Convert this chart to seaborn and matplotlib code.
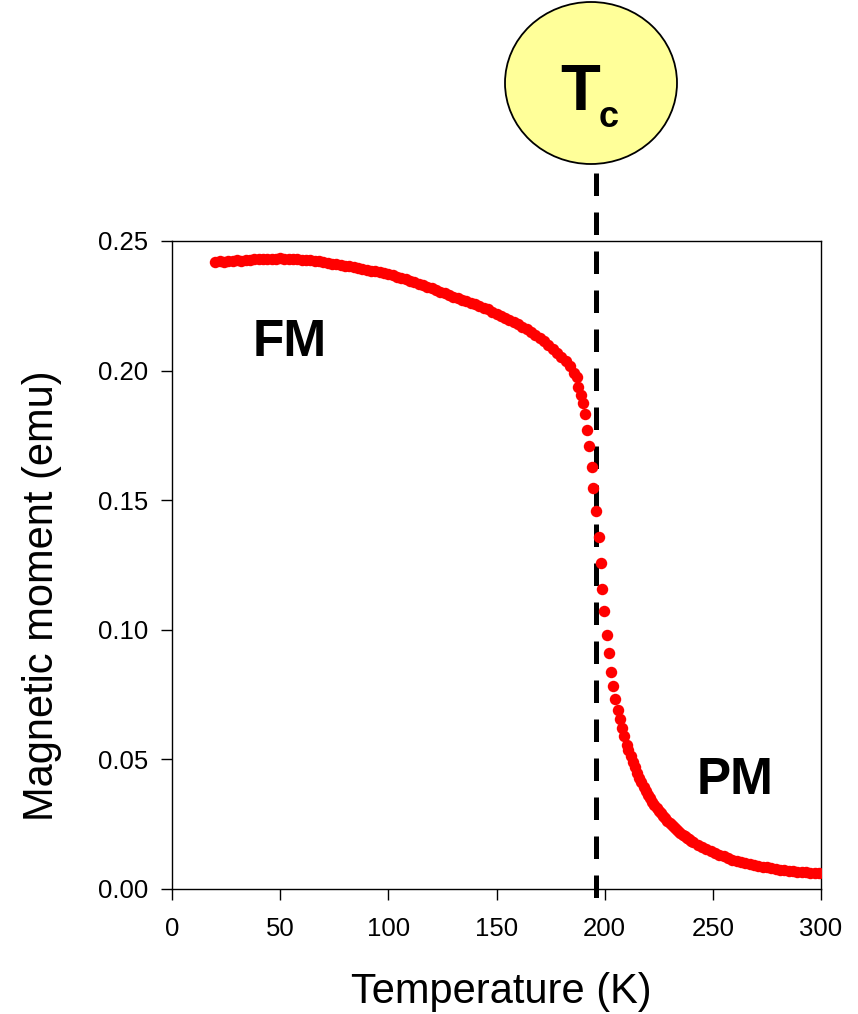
import matplotlib
matplotlib.use("Agg")
import matplotlib.pyplot as plt
from matplotlib.patches import Ellipse
import pandas as pd
import seaborn as sns

# Ferromagnetic branch (K, emu)
temp_fm = [20, 22, 24, 26, 28, 30, 32, 34, 36, 38, 40, 42, 44, 46, 48, 50, 52, 54, 56, 58,
           60, 62, 64, 66, 68, 70, 72, 74, 76, 78, 80, 82, 84, 86, 88, 90, 92, 94, 96, 98,
           100, 102, 104, 106, 108, 110, 112, 114, 116, 118, 120, 122, 124, 126, 128, 130,
           132, 134, 136, 138, 140, 142, 144, 146, 148, 150, 152, 154, 156, 158, 160, 162,
           164, 166, 168, 170, 172, 174, 176, 178, 180, 182, 184, 186]
moment_fm = [0.2419, 0.2421, 0.2420, 0.2423, 0.2422, 0.2425, 0.2424, 0.2428, 0.2427, 0.2430,
             0.2429, 0.2431, 0.2430, 0.2432, 0.2431, 0.2433, 0.2431, 0.2432, 0.2430, 0.2429,
             0.2428, 0.2426, 0.2425, 0.2423, 0.2421, 0.2419, 0.2416, 0.2413, 0.2410, 0.2408,
             0.2405, 0.2402, 0.2399, 0.2396, 0.2393, 0.2390, 0.2386, 0.2383, 0.2379, 0.2375,
             0.2371, 0.2367, 0.2363, 0.2358, 0.2353, 0.2347, 0.2341, 0.2336, 0.2330, 0.2324,
             0.2318, 0.2312, 0.2305, 0.2298, 0.2291, 0.2285, 0.2279, 0.2273, 0.2267, 0.2261,
             0.2256, 0.2250, 0.2243, 0.2236, 0.2228, 0.2220, 0.2212, 0.2204, 0.2196, 0.2188,
             0.2179, 0.2170, 0.2160, 0.2149, 0.2138, 0.2126, 0.2113, 0.2099, 0.2084, 0.2068,
             0.2051, 0.2036, 0.2016, 0.1992]

# Transition region around the Curie point
temp_tr = [187.1, 187.9, 188.9, 189.9, 190.9, 192.0, 192.9, 194.0, 194.8, 196.0, 197.2, 198.2,
           198.9, 199.9, 201.0, 202.0, 202.9, 204.0, 204.9, 206.0, 207.0, 207.9, 208.8, 210.2]
moment_tr = [0.1977, 0.1938, 0.1906, 0.1874, 0.1832, 0.1771, 0.1709, 0.1628, 0.1547, 0.1459,
             0.1359, 0.1259, 0.1156, 0.1071, 0.0979, 0.0909, 0.0838, 0.0783, 0.0732, 0.0692,
             0.0656, 0.0622, 0.0591, 0.0556]

# Paramagnetic branch
temp_pm = [211, 212, 213, 214, 215, 216, 217, 218, 219, 220, 221, 222, 223, 224, 225, 226,
           227, 228, 229, 230, 231, 232, 233, 234, 235, 236, 237, 238, 239, 240,
           241, 243, 245, 247, 249, 251, 253, 255, 257, 259, 261, 263, 265, 267, 269, 271,
           273, 275, 277, 279, 281, 283, 285, 287, 289, 291, 293, 295, 297, 299]
moment_pm = [0.0537, 0.0512, 0.0490, 0.0469, 0.0449, 0.0430, 0.0411, 0.0394, 0.0379, 0.0364,
             0.0350, 0.0337, 0.0324, 0.0313, 0.0302, 0.0292, 0.0282, 0.0273, 0.0264, 0.0255,
             0.0246, 0.0238, 0.0231, 0.0224, 0.0217, 0.0210, 0.0204, 0.0198, 0.0192, 0.0186,
             0.0181, 0.0171, 0.0162, 0.0154, 0.0146, 0.0139, 0.0132, 0.0126, 0.0120, 0.0113,
             0.0108, 0.0104, 0.0100, 0.0096, 0.0093, 0.0089, 0.0086, 0.0083, 0.0080, 0.0078,
             0.0075, 0.0073, 0.0071, 0.0069, 0.0067, 0.0065, 0.0064, 0.0062, 0.0061, 0.0060]

x_ticks = [0, 50, 100, 150, 200, 250, 300]
y_ticks = [0.00, 0.05, 0.10, 0.15, 0.20, 0.25]
t_curie = 196

sns.set_theme(style="white")
plt.rcParams["font.family"] = ["Liberation Sans", "DejaVu Sans"]

df = pd.DataFrame({
    "Temperature": temp_fm + temp_tr + temp_pm,
    "Moment": moment_fm + moment_tr + moment_pm,
})

W, H = 858, 1014
fig = plt.figure(figsize=(W / 100, H / 100), dpi=100)
ax = fig.add_axes([172 / W, 125 / H, 649 / W, 648 / H])

sns.scatterplot(data=df, x="Temperature", y="Moment", ax=ax, color="#ff0000",
                s=68, linewidth=0, legend=False, zorder=3)

ax.set_xlim(0, 300)
ax.set_ylim(0, 0.25)
ax.set_xticks(x_ticks)
ax.set_yticks(y_ticks)
ax.set_yticklabels([f"{v:.2f}" for v in y_ticks])
ax.set_xlabel("")
ax.set_ylabel("")

for sp in ax.spines.values():
    sp.set_color("black")
    sp.set_linewidth(1.0)
ax.tick_params(axis="both", which="major", direction="out", length=8, width=1,
               color="black", labelcolor="black", labelsize=18.5,
               bottom=True, left=True)
ax.tick_params(axis="x", pad=12)
ax.tick_params(axis="y", pad=9)

# Curie temperature marker
ax.plot([t_curie, t_curie], [0.2762, -0.0081], color="black", lw=3.6,
        dashes=(4.5, 3.3), clip_on=False, zorder=2, solid_capstyle="butt",
        dash_capstyle="butt")

ax.text(54.5, 0.2107, "FM", fontsize=37, fontweight="bold", ha="center",
        va="center", color="black")
ax.text(260.2, 0.0417, "PM", fontsize=37, fontweight="bold", ha="center",
        va="center", color="black")

circle = Ellipse((591 / W, 1 - 83 / H), 172 / W, 162 / H, transform=fig.transFigure,
                 facecolor="#ffff99", edgecolor="black", lw=1.3)
fig.add_artist(circle)
fig.text(580 / W, 1 - 110 / H, "T", fontsize=47, fontweight="bold", ha="center",
         va="baseline", color="black")
fig.text(609 / W, 1 - 126.7 / H, "c", fontsize=26, fontweight="bold", ha="center",
         va="baseline", color="black")

fig.text(501 / W, 1 - 992 / H, "Temperature (K)", fontsize=30, ha="center",
         va="center", color="black")
fig.text(42 / W, 1 - 596 / H, "Magnetic moment (emu)", fontsize=30, rotation=90,
         ha="center", va="center", color="black")

fig.savefig("out.png", dpi=100, facecolor="white")
